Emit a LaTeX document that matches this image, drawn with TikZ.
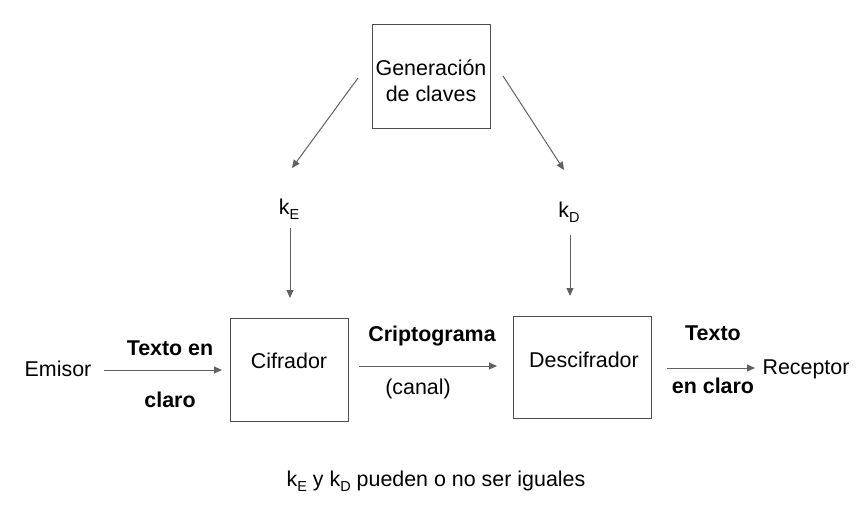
\documentclass[tikz,border=0pt]{standalone}
\usepackage{fontspec}
\setmainfont{Liberation Sans}
\usetikzlibrary{arrows.meta}
\newcommand{\ksb}[1]{k\raisebox{-0.45ex}{\fontsize{14.5}{14.5}\selectfont #1}}
\tikzset{
  lbl/.style={inner sep=0pt, align=center, font=\fontsize{21.5}{26}\selectfont},
  blbl/.style={inner sep=0pt, align=center, font=\fontsize{21.5}{26}\selectfont\bfseries},
  boxn/.style={draw=black!70, line width=1pt},
  arr/.style={draw=black!62, line width=1pt, -{Triangle[length=8pt,width=7pt]}}
}
\begin{document}
\begin{tikzpicture}[x=1bp,y=-1bp]
\useasboundingbox (0,0) rectangle (864,518);
% boxes
\draw[boxn] (372,25) rectangle (490,129);
\node[lbl] (gen) at (431,81) {Generación\\de claves};
\draw[boxn] (230,318) rectangle (348,421);
\node[lbl] (cif) at (289,361) {Cifrador};
\draw[boxn] (513,316) rectangle (651,418);
\node[lbl] (des) at (584,360) {Descifrador};
\coordinate (genW) at (358,78);
\coordinate (genE) at (503,76);
\coordinate (cifN) at (290,298);
\coordinate (desN) at (570,296);
\coordinate (cifW) at (222,370);
\coordinate (cifE) at (359,366);
\coordinate (desW) at (497,366);
\coordinate (desE) at (667,368);
\coordinate (emiE) at (104,370);
\coordinate (recW) at (755,368);
% keys
\node[lbl] (kE) at (289,209) {\ksb{E}};
\node[lbl] (kD) at (569,212) {\ksb{D}};
\coordinate (kEN) at (292,168);
\coordinate (kDN) at (564,170);
\coordinate (kES) at (290,228);
\coordinate (kDS) at (570,235);
% side texts
\node[lbl] (emi) at (58,369) {Emisor};
\node[lbl] (rec) at (806,369) {Receptor};
\node[blbl] (t1) at (170,348) {Texto en};
\node[blbl] (t2) at (170,400) {claro};
\node[blbl] (cr) at (432,336) {Criptograma};
\node[lbl] (ca) at (418,389) {(canal)};
\node[blbl] (t3) at (713,333) {Texto};
\node[blbl] (t4) at (713,386) {en claro};
\node[lbl] (bot) at (436,481) {\ksb{E} y \ksb{D} pueden o no ser iguales};
% connectors
\draw[arr] (genW) -- (kEN);
\draw[arr] (genE) -- (kDN);
\draw[arr] (kES) -- (cifN);
\draw[arr] (kDS) -- (desN);
\draw[arr] (emiE) -- (cifW);
\draw[arr] (cifE) -- (desW);
\draw[arr] (desE) -- (recW);
\end{tikzpicture}
\end{document}
